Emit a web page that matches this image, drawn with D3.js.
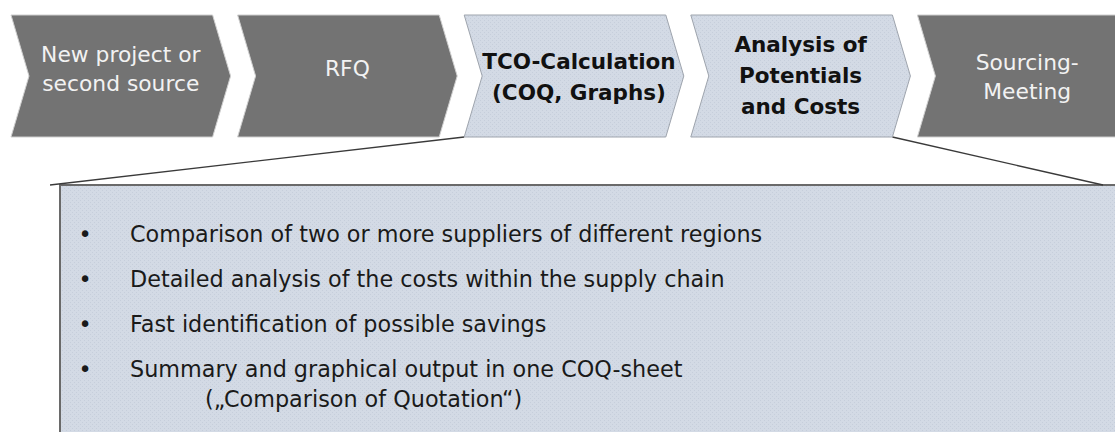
<!DOCTYPE html>
<html>
<head>
<meta charset="utf-8">
<script src="https://cdn.jsdelivr.net/npm/d3@7"></script>
<style>
  html, body { margin: 0; padding: 0; background: #fff; }
  svg { display: block; }
</style>
</head>
<body>
<svg id="chart"></svg>
<script>
'use strict';

// process steps
var stages = ['New project or second source', 'RFQ', 'TCO-Calculation (COQ, Graphs)',
  'Analysis of Potentials and Costs', 'Sourcing-Meeting'];
var stageLines = [
  ['New project or', 'second source'],
  ['RFQ'],
  ['TCO-Calculation', '(COQ, Graphs)'],
  ['Analysis of', 'Potentials', 'and Costs'],
  ['Sourcing-', 'Meeting']
];
var highlighted = [false, false, true, true, false];

// callout bullets
var bullets = [
  ['Comparison of two or more suppliers of different regions'],
  ['Detailed analysis of the costs within the supply chain'],
  ['Fast identification of possible savings'],
  ['Summary and graphical output in one COQ-sheet', '(\u201EComparison of Quotation\u201C)']
];

(function () {
  var width = 1115;
  var height = 432;
  var yTop = 15;
  var yBottom = 137;
  var depth = 18;
  var gap = 25;

  var svg = d3.select('#chart')
      .attr('width', width)
      .attr('height', height);

  var defs = svg.append('defs');
  var pattern = defs.append('pattern')
      .attr('id', 'dots')
      .attr('width', 4)
      .attr('height', 4)
      .attr('patternUnits', 'userSpaceOnUse');
  pattern.append('rect')
      .attr('width', 4)
      .attr('height', 4)
      .attr('fill', '#d3dae5');
  pattern.append('rect')
      .attr('x', 0).attr('y', 0)
      .attr('width', 1).attr('height', 1)
      .attr('fill', '#c6cedb');
  pattern.append('rect')
      .attr('x', 2).attr('y', 2)
      .attr('width', 1).attr('height', 1)
      .attr('fill', '#c6cedb');

  var x = d3.scaleBand()
      .domain(stages)
      .range([11, 1144]);

  var w = x.step() - gap;
  var mid = (yTop + yBottom) / 2;

  function chevron(d) {
    var x0 = x(d);
    return d3.line()([
      [x0, yTop], [x0 + w, yTop], [x0 + w + depth, mid],
      [x0 + w, yBottom], [x0, yBottom], [x0 + depth, mid]
    ]) + 'Z';
  }

  // callout box and connectors
  var box = { left: 60, top: 185 };
  var bulletY = d3.scaleLinear().domain([0, 1]).range([242, 287]);

  svg.append('rect')
      .attr('x', box.left)
      .attr('y', box.top)
      .attr('width', width + 20 - box.left)
      .attr('height', height + 20 - box.top)
      .attr('fill', 'url(#dots)')
      .attr('stroke', '#6a6a6a')
      .attr('stroke-width', 2);

  svg.append('path')
      .attr('d', d3.line()([[50, box.top], [x(stages[2]), yBottom]]))
      .attr('stroke', '#3a3a3a')
      .attr('stroke-width', 1.4)
      .attr('fill', 'none');

  svg.append('path')
      .attr('d', d3.line()([[x(stages[3]) + w, yBottom], [1103, box.top]]))
      .attr('stroke', '#3a3a3a')
      .attr('stroke-width', 1.4)
      .attr('fill', 'none');

  // chevrons
  var labelShift = [-7, -7, 1, 0, 1];

  var steps = svg.selectAll('g.step')
      .data(stages)
    .enter().append('g')
      .attr('class', 'step');

  steps.append('path')
      .attr('d', chevron)
      .attr('fill', function (d, i) { return highlighted[i] ? 'url(#dots)' : '#737373'; })
      .attr('stroke', function (d, i) { return highlighted[i] ? '#9ea4ad' : '#cfcfcf'; })
      .attr('stroke-width', 1);

  steps.append('text')
      .attr('text-anchor', 'middle')
      .attr('font-family', 'DejaVu Sans, sans-serif')
      .attr('font-size', function (d, i) { return highlighted[i] ? 21.5 : 21.8; })
      .attr('font-weight', function (d, i) { return highlighted[i] ? 'bold' : 'normal'; })
      .attr('fill', function (d, i) { return highlighted[i] ? '#111' : '#f2f2f2'; })
      .each(function (d, i) {
        var lines = stageLines[i];
        var lh = highlighted[i] ? 31 : 29;
        var cx = x(d) + (w + depth) / 2 + (i === 2 ? 5 : 0);
        var y0 = mid + labelShift[i] - (lines.length - 1) * lh / 2 + 7;
        d3.select(this).selectAll('tspan')
            .data(lines)
          .enter().append('tspan')
            .attr('x', cx)
            .attr('y', function (l, j) { return y0 + j * lh; })
            .text(function (l) { return l; });
      });

  // bullet list
  var items = svg.selectAll('g.item')
      .data(bullets)
    .enter().append('g')
      .attr('class', 'item')
      .attr('font-family', 'DejaVu Sans, sans-serif')
      .attr('font-size', 22.3)
      .attr('fill', '#1a1a1a');

  items.append('text')
      .attr('x', 85)
      .attr('y', function (d, i) { return bulletY(i); })
      .attr('text-anchor', 'middle')
      .text('\u2022');

  items.append('text')
      .attr('y', function (d, i) { return bulletY(i); })
      .selectAll('tspan')
      .data(function (d) { return d; })
    .enter().append('tspan')
      .attr('x', function (l, j) { return j === 0 ? 130 : 205; })
      .attr('dy', function (l, j) { return j === 0 ? 0 : 30; })
      .text(function (l) { return l; });
})();
</script>
</body>
</html>
